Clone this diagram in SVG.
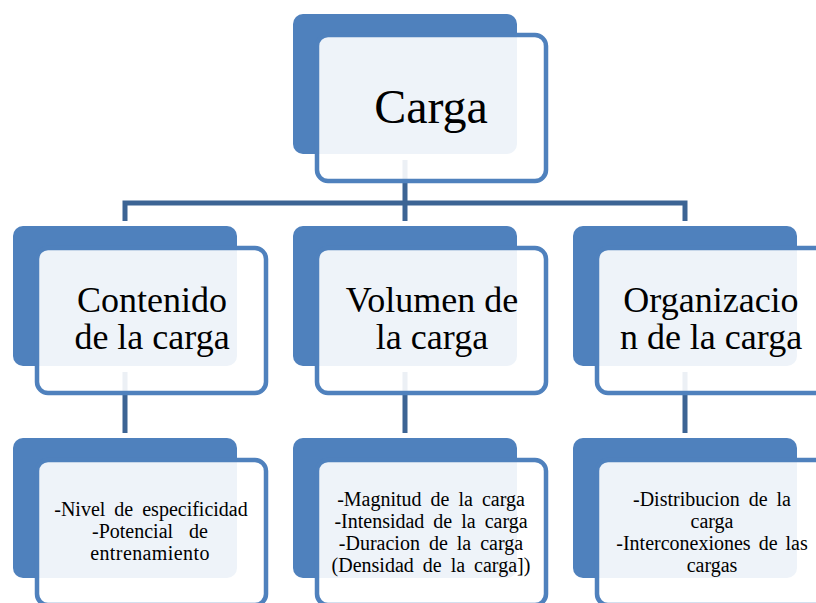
<svg xmlns="http://www.w3.org/2000/svg" width="816" height="603" viewBox="0 0 816 603">
<style>
.back{fill:#4F81BD;}
.front{fill:#FFFFFF;fill-opacity:0.9;stroke:#4F81BD;stroke-width:4.5;}
.conn{fill:none;stroke:#3C6494;stroke-width:5;}
text{font-family:"Liberation Serif","Times New Roman",serif;fill:#000;text-anchor:middle;}
.t1{font-size:48px;}
.t2{font-size:36px;}
.t3{font-size:20px;}
</style>
<rect width="816" height="603" fill="#FFFFFF"/>
<g id="connectors">
<path class="conn" d="M405 160 V203 M125 221 V203 H685 V221 M405 203 V221"/>
<path class="conn" d="M125 372 V433 M405 372 V433 M685 372 V433"/>
</g>
<g id="node-carga">
<rect class="back" x="293" y="14" width="224" height="140" rx="10"/>
<rect class="front" x="317" y="35" width="229" height="146" rx="11"/>
<text class="t1" x="431" y="123">Carga</text>
</g>
<g id="node-contenido">
<rect class="back" x="13" y="226" width="224" height="140" rx="10"/>
<rect class="front" x="37" y="248" width="229" height="145" rx="11"/>
<text class="t2" x="152" y="312">Contenido</text>
<text class="t2" x="152" y="349">de la carga</text>
</g>
<g id="node-volumen">
<rect class="back" x="293" y="226" width="224" height="140" rx="10"/>
<rect class="front" x="317" y="248" width="229" height="145" rx="11"/>
<text class="t2" x="432" y="312">Volumen de</text>
<text class="t2" x="432" y="349">la carga</text>
</g>
<g id="node-organizacion">
<rect class="back" x="573" y="226" width="224" height="140" rx="10"/>
<rect class="front" x="597" y="248" width="229" height="145" rx="11"/>
<text class="t2" x="711" y="312">Organizacio</text>
<text class="t2" x="711" y="349">n de la carga</text>
</g>
<g id="node-contenido-detalle">
<rect class="back" x="13" y="438" width="224" height="140" rx="10"/>
<rect class="front" x="37" y="460" width="229" height="145" rx="11"/>
<text class="t3" x="151" y="516" word-spacing="4">-Nivel de especificidad</text>
<text class="t3" x="150" y="538" word-spacing="11">-Potencial de</text>
<text class="t3" x="150" y="560" letter-spacing="0.4">entrenamiento</text>
</g>
<g id="node-volumen-detalle">
<rect class="back" x="293" y="438" width="224" height="140" rx="10"/>
<rect class="front" x="317" y="460" width="229" height="145" rx="11"/>
<text class="t3" x="431" y="506" word-spacing="4">-Magnitud de la carga</text>
<text class="t3" x="431" y="528" word-spacing="4">-Intensidad de la carga</text>
<text class="t3" x="431" y="550" word-spacing="4">-Duracion de la carga</text>
<text class="t3" x="431" y="572" word-spacing="4">(Densidad de la carga])</text>
</g>
<g id="node-organizacion-detalle">
<rect class="back" x="573" y="438" width="224" height="140" rx="10"/>
<rect class="front" x="597" y="460" width="229" height="145" rx="11"/>
<text class="t3" x="712" y="506" word-spacing="4">-Distribucion de la</text>
<text class="t3" x="712" y="528">carga</text>
<text class="t3" x="712" y="550" word-spacing="3">-Interconexiones de las</text>
<text class="t3" x="712" y="572">cargas</text>
</g>
</svg>
